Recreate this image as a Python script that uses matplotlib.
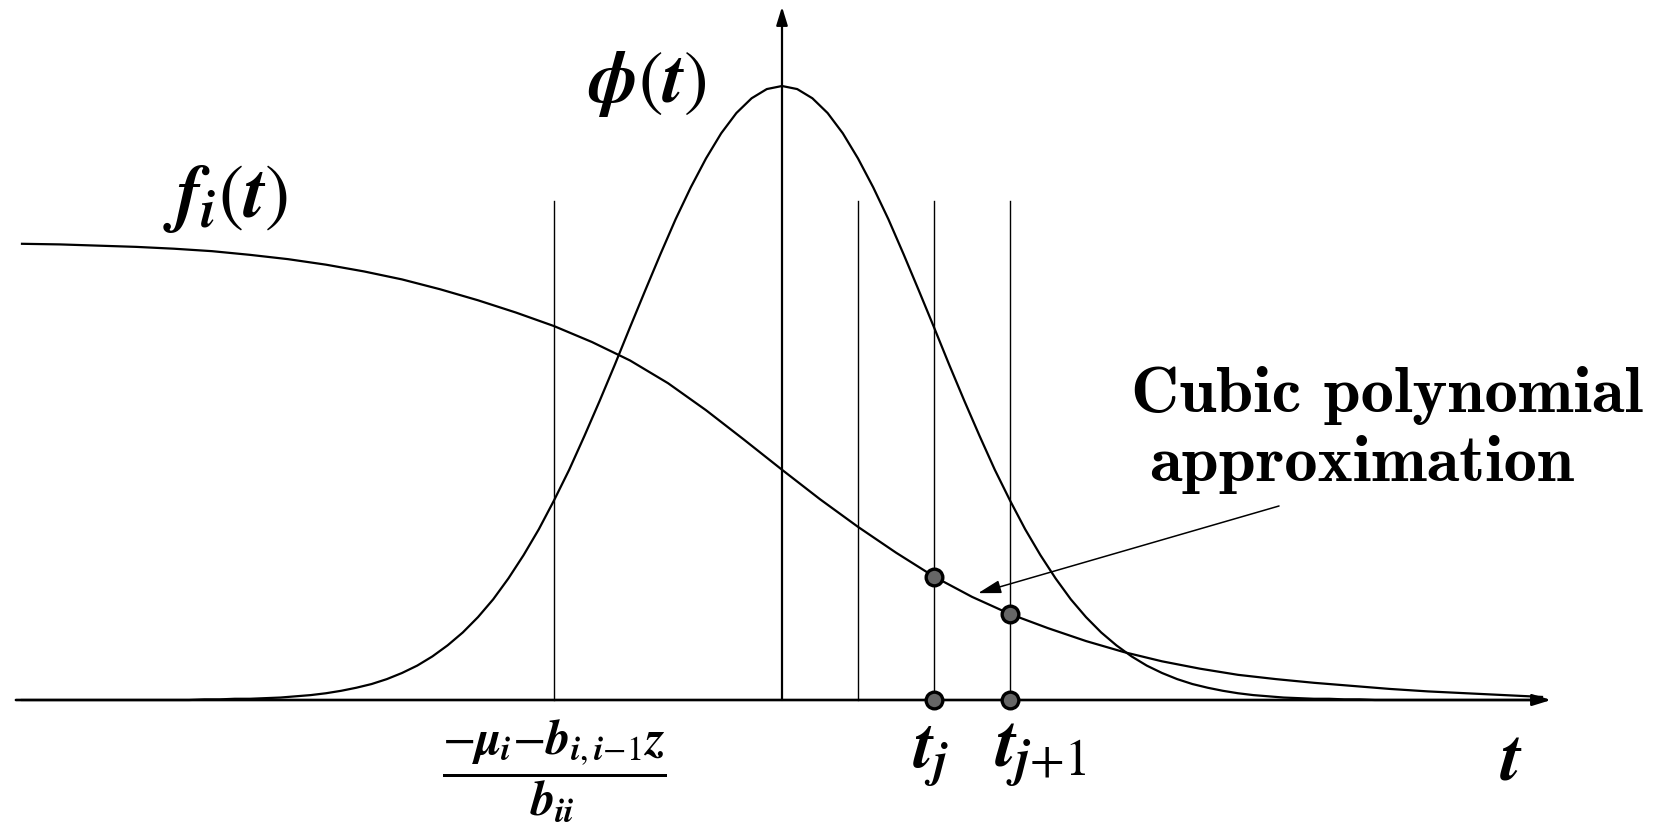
import numpy as np
import matplotlib
matplotlib.use("Agg")
import matplotlib.pyplot as plt

# bold math, Times-like
plt.rcParams['mathtext.fontset'] = 'custom'
plt.rcParams['mathtext.it'] = 'STIXGeneral:italic:bold'
plt.rcParams['mathtext.rm'] = 'STIXGeneral'
plt.rcParams['mathtext.bf'] = 'STIXGeneral:bold'

# normal density phi(t), scaled to peak 1
phi_t = np.round(np.arange(-5.0, 5.01, 0.1), 2)
phi_vals = [0.000, 0.000, 0.000, 0.000, 0.000, 0.000, 0.000, 0.000, 0.000, 0.000,
            0.000, 0.000, 0.001, 0.001, 0.002, 0.002, 0.003, 0.004, 0.006, 0.008,
            0.011, 0.015, 0.020, 0.026, 0.034, 0.044, 0.056, 0.071, 0.089, 0.110,
            0.135, 0.164, 0.198, 0.236, 0.278, 0.325, 0.375, 0.430, 0.487, 0.546,
            0.607, 0.667, 0.726, 0.783, 0.835, 0.882, 0.923, 0.956, 0.980, 0.995,
            1.000, 0.995, 0.980, 0.956, 0.923, 0.882, 0.835, 0.783, 0.726, 0.667,
            0.607, 0.546, 0.487, 0.430, 0.375, 0.325, 0.278, 0.236, 0.198, 0.164,
            0.135, 0.110, 0.089, 0.071, 0.056, 0.044, 0.034, 0.026, 0.020, 0.015,
            0.011, 0.008, 0.006, 0.004, 0.003, 0.002, 0.002, 0.001, 0.001, 0.000,
            0.000, 0.000, 0.000, 0.000, 0.000, 0.000, 0.000, 0.000, 0.000, 0.000,
            0.000]

# f_i(t)
f_t = np.round(np.arange(-5.0, 5.01, 0.25), 2)
f_vals = [0.743, 0.742, 0.740, 0.738, 0.735, 0.731, 0.725, 0.718, 0.709, 0.698,
          0.685, 0.669, 0.651, 0.631, 0.609, 0.583, 0.553, 0.516, 0.472, 0.424,
          0.375, 0.327, 0.282, 0.240, 0.201, 0.168, 0.140, 0.117, 0.096, 0.078,
          0.063, 0.051, 0.041, 0.034, 0.028, 0.023, 0.018, 0.014, 0.011, 0.008,
          0.005]

# vertical guide lines: lower limit, and knots
guides = [-1.5, 0.5, 1.0, 1.5]
knots = [1.0, 1.5]
guide_top = 0.813

fig = plt.figure(figsize=(16.57, 8.27), dpi=100)
ax = fig.add_axes([0, 0, 1, 1])
ax.set_xlim(-782 / 152, (1657 - 782) / 152)
ax.set_ylim(-127 / 614, 700 / 614)
ax.axis('off')

for g in guides:
    ax.plot([g, g], [0, guide_top], color='k', lw=1.0, zorder=1)

ax.plot(phi_t, phi_vals, color='k', lw=1.6, zorder=2, solid_joinstyle='round')
ax.plot(f_t, f_vals, color='k', lw=1.6, zorder=2, solid_joinstyle='round')

# axes with arrows
ax.annotate('', xy=(5.06, 0), xytext=(-5.04, 0),
            arrowprops=dict(arrowstyle='-|>,head_length=0.55,head_width=0.17',
                            lw=1.9, color='k', mutation_scale=20,
                            shrinkA=0, shrinkB=0), zorder=3)
ax.annotate('', xy=(0, 1.129), xytext=(0, 0),
            arrowprops=dict(arrowstyle='-|>,head_length=0.55,head_width=0.17',
                            lw=1.6, color='k', mutation_scale=20,
                            shrinkA=0, shrinkB=0), zorder=3)

# knot points on the curve and on the axis
f_at = dict(zip(f_t, f_vals))
knot_f = [f_at[k] for k in knots]
ax.plot(knots, knot_f, 'o', ms=12, mfc='#666666', mec='k', mew=2.4, zorder=5)
ax.plot(knots, [0, 0], 'o', ms=12, mfc='#666666', mec='k', mew=2.4, zorder=5)

# labels
ax.text(-1.276, 0.974, r'$\phi(t)$', fontsize=53, ha='left', va='baseline')
ax.text(-4.07, 0.787, r'$f_i(t)$', fontsize=54, ha='left', va='baseline')
ax.text(0.86, -0.109, r'$t_j$', fontsize=50, ha='left', va='baseline')
ax.text(1.40, -0.109, r'$t_{j{+}1}$', fontsize=52, ha='left', va='baseline')
ax.text(4.80, -0.129, r'$t$', fontsize=52, ha='center', va='baseline')
ax.text(-1.5, -0.117, r'$\dfrac{-\mu_i{-}b_{i,i{-}1}z}{b_{ii}}$', fontsize=35,
        ha='center', va='center')

ax.text(3.98, 0.469, 'Cubic polynomial', family='cmb10', fontsize=48,
        ha='center', va='baseline')
ax.text(3.81, 0.357, 'approximation', family='cmb10', fontsize=48,
        ha='center', va='baseline')
ax.annotate('', xy=(1.29, 0.174), xytext=(3.27, 0.316),
            arrowprops=dict(arrowstyle='-|>,head_length=0.7,head_width=0.2',
                            lw=1.1, color='k', mutation_scale=20,
                            shrinkA=0, shrinkB=0))

fig.savefig('out.png', dpi=100, facecolor='white')
